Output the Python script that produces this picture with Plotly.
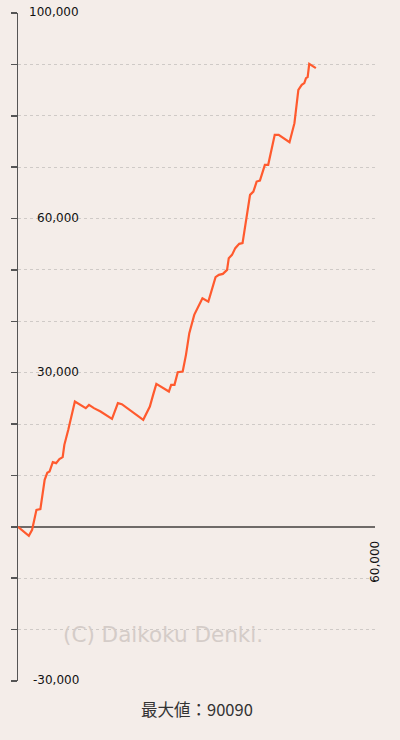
import plotly.graph_objects as go

games = [0, 1820, 2370, 3100, 3760, 4480, 4920, 5300, 5850, 6410, 6960, 7510, 7790, 8450,
         9560, 11390, 11930, 12760, 13870, 15800, 16790, 17450, 21050, 22160, 22710, 23250,
         25360, 25740, 26300, 26850, 27680, 28230, 28790, 29620, 31000, 31990, 33200, 33760,
         34430, 35140, 35420, 35970, 36520, 37180, 37740, 39000, 39560, 40110, 40660, 41490,
         42050, 42480, 43150, 43810, 45630, 46460, 47120, 47690, 48120, 48400, 48680, 48950,
         49510, 50060]
diff = [0, -1750, -580, 3310, 3440, 9150, 10510, 10760, 12590, 12400, 13170, 13560, 15960, 18880,
        24380, 23100, 23740, 23100, 22440, 21020, 24070, 23880, 20820, 23410, 25690, 27830,
        26330, 27630, 27630, 30100, 30220, 33470, 37690, 41250, 44500, 43840, 48590, 49040,
        49230, 50010, 52290, 52930, 54240, 55070, 55210, 64610, 65250, 67200, 67390, 70450,
        70450, 72720, 76280, 76280, 74860, 78560, 85040, 86010, 86350, 87320, 87510, 90090,
        89710, 89260]

y_labels = [100000, 60000, 30000, -30000]
y_label_text = ["100,000", "60,000", "30,000", "-30,000"]
x_max = 60000
x_max_text = "60,000"
max_value_text = "最大値：90090"
watermark = "(C) Daikoku Denki."

bg = "#f4ede9"
W, H = 400, 740
L, R, T, B = 13, 25, 13, 59
PW, PH = W - L - R, H - T - B


def px(x):
    return (x - L) / PW


def py(y):
    return (H - B - y) / PH


fig = go.Figure()
fig.add_trace(go.Scatter(x=games, y=diff, mode="lines",
                         line=dict(color="#ff5a2e", width=2.2), hoverinfo="skip"))

fig.update_layout(
    width=W, height=H,
    margin=dict(l=L, r=R, t=T, b=B),
    paper_bgcolor=bg, plot_bgcolor=bg,
    showlegend=False,
    font=dict(family="DejaVu Sans", color="#222"),
)
fig.update_xaxes(range=[0, x_max], showgrid=False, showticklabels=False,
                 zeroline=False, showline=False, ticks="", fixedrange=True)
fig.update_yaxes(range=[-30000, 100000], dtick=10000, tick0=0,
                 showgrid=True, gridcolor="#cfcac7", griddash="dot", gridwidth=1,
                 zeroline=True, zerolinecolor="#6e6a68", zerolinewidth=1.5,
                 showline=True, linecolor="#555", linewidth=1.5,
                 ticks="outside", ticklen=6, tickcolor="#555", tickwidth=1.5,
                 showticklabels=False, fixedrange=True)

for v, t in zip(y_labels, y_label_text):
    fig.add_annotation(x=px(77), y=v, xref="paper", yref="y", text=t,
                       showarrow=False, xanchor="right", yanchor="middle", yshift=1,
                       font=dict(family="DejaVu Sans", size=12, color="#111"))

fig.add_annotation(x=x_max, y=-6800, xref="x", yref="y", text=x_max_text,
                   showarrow=False, textangle=-90, xanchor="center", yanchor="middle",
                   font=dict(family="DejaVu Sans", size=12, color="#111"))

fig.add_annotation(x=px(57), y=py(634), xref="paper", yref="paper", text=watermark,
                   showarrow=False, xanchor="left", yanchor="middle",
                   font=dict(family="DejaVu Sans", size=21.5, color="#d4ccc8"))

fig.add_annotation(x=px(194), y=py(709), xref="paper", yref="paper",
                   text=max_value_text, showarrow=False, xanchor="center", yanchor="middle",
                   font=dict(family="Noto Sans CJK JP", size=16.5, color="#333"))

fig.write_html("out.html", config={"displayModeBar": False, "staticPlot": True},
               post_script="document.body.style.margin='0';document.body.style.overflow='hidden';")
